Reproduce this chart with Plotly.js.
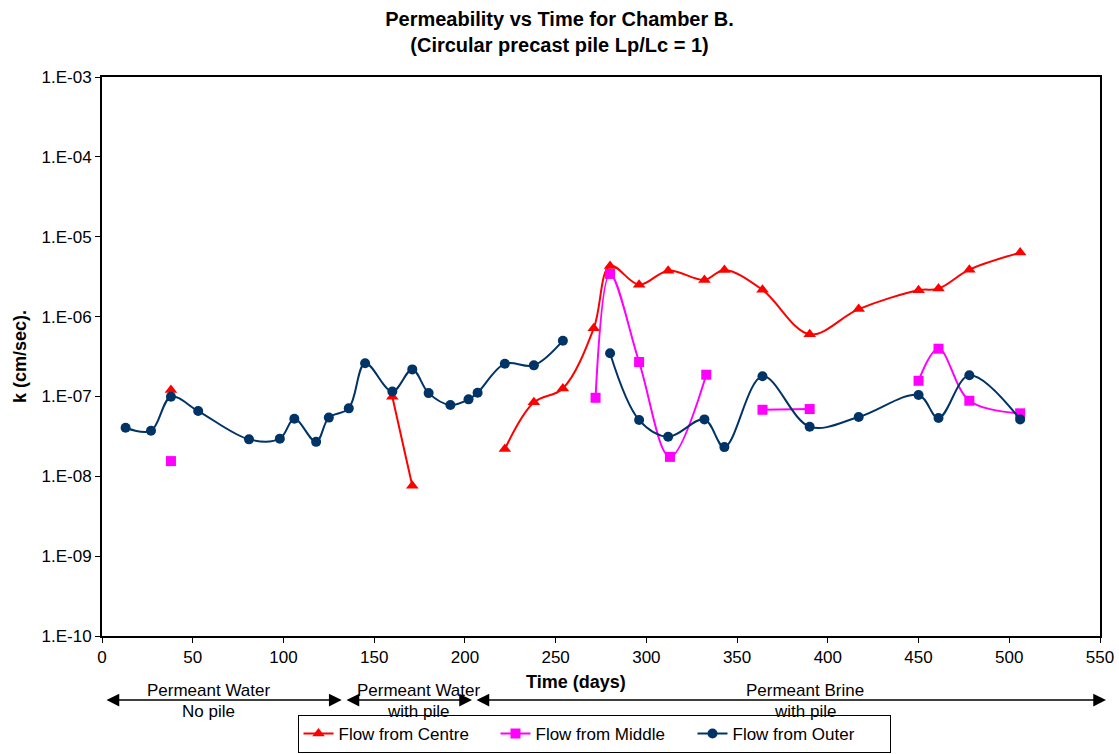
<!DOCTYPE html>
<html>
<head>
<meta charset="utf-8">
<script src="https://cdn.plot.ly/plotly-3.0.1.min.js"></script>
<style>
  html, body { margin: 0; padding: 0; background: #fff; }
  #chart { width: 1119px; height: 754px; }
</style>
</head>
<body>
<div id="chart"></div>
<script>
// Permeability readings (cm/sec) against elapsed time (days); null breaks a line.
const centreDays = [38, null, 160, 171, null, 222, 238, 254, 271, 280, 296, 312, 332, 343, 364, 390, 417, 450, 461, 478, 506];
const centreK = [1.20e-7, null, 9.9e-8, 7.6e-9, null, 2.19e-8, 8.43e-8, 1.26e-7, 7.13e-7, 4.31e-6, 2.51e-6, 3.76e-6, 2.88e-6, 3.84e-6, 2.16e-6, 6.0e-7, 1.24e-6, 2.14e-6, 2.24e-6, 3.87e-6, 6.33e-6];

const middleDays = [38, null, 272, 280, 296, 313, 333, null, 364, 390, null, 450, 461, 478, 506];
const middleK = [1.55e-8, null, 9.62e-8, 3.42e-6, 2.70e-7, 1.75e-8, 1.87e-7, null, 6.81e-8, 6.95e-8, null, 1.57e-7, 3.96e-7, 8.83e-8, 6.14e-8];

const outerDays = [13, 27, 38, 53, 81, 98, 106, 118, 125, 136, 145, 160, 171, 180, 192, 202, 207, 222, 238, 254, null, 280, 296, 312, 332, 343, 364, 390, 417, 450, 461, 478, 506];
const outerK = [4.05e-8, 3.71e-8, 9.9e-8, 6.56e-8, 2.90e-8, 2.96e-8, 5.25e-8, 2.70e-8, 5.43e-8, 7.09e-8, 2.60e-7, 1.15e-7, 2.18e-7, 1.10e-7, 7.80e-8, 9.19e-8, 1.11e-7, 2.57e-7, 2.45e-7, 4.99e-7, null, 3.47e-7, 5.06e-8, 3.13e-8, 5.16e-8, 2.32e-8, 1.79e-7, 4.17e-8, 5.52e-8, 1.04e-7, 5.36e-8, 1.84e-7, 5.16e-8];

const seriesNames = ['Flow from Centre', 'Flow from Middle', 'Flow from Outer'];
const yTickVals = [1e-10, 1e-9, 1e-8, 1e-7, 1e-6, 1e-5, 1e-4, 1e-3];
const yTickText = ['1.E-10', '1.E-09', '1.E-08', '1.E-07', '1.E-06', '1.E-05', '1.E-04', '1.E-03'];

// Stage bands shown under the time axis
const stageTop = ['Permeant Water', 'Permeant Water', 'Permeant Brine'];
const stageBottom = ['No pile', 'with pile', 'with pile'];

const FONT = 'Liberation Sans, Arial, sans-serif';
const M = { l: 102, r: 19, t: 77, b: 118, autoexpand: false };
const W = 1119 - M.l - M.r;
const H = 754 - M.t - M.b;
// pixel position on the page -> paper fraction
const px = x => (x - M.l) / W;
const py = y => (754 - M.b - y) / H;

const base = { type: 'scatter', mode: 'lines+markers', connectgaps: false,
               line: { shape: 'spline', smoothing: 1, width: 2 } };

const traces = [
  Object.assign({}, base, { x: centreDays, y: centreK, name: seriesNames[0],
    line: Object.assign({}, base.line, { color: '#ff0000' }),
    marker: { symbol: 'triangle-up', size: 11, color: '#ff0000' } }),
  Object.assign({}, base, { x: middleDays, y: middleK, name: seriesNames[1],
    line: Object.assign({}, base.line, { color: '#ff00ff' }),
    marker: { symbol: 'square', size: 10, color: '#ff00ff' } }),
  Object.assign({}, base, { x: outerDays, y: outerK, name: seriesNames[2],
    line: Object.assign({}, base.line, { color: '#003366' }),
    marker: { symbol: 'circle', size: 10, color: '#003366' } })
];

const arrowY = py(700);
const arrows = [[105, 341.7], [345, 472], [475, 1106]].map(([a, b]) => ({
  xref: 'paper', yref: 'paper', x: px(b), y: arrowY,
  axref: 'pixel', ayref: 'pixel', ax: -(b - a), ay: 0,
  text: '', showarrow: true, arrowside: 'end+start', arrowhead: 2,
  arrowsize: 1.7, arrowwidth: 1.5, arrowcolor: '#000', standoff: 0, startstandoff: 0
}));

const label = (x, y, text, size, bold) => ({
  xref: 'paper', yref: 'paper', x: px(x), y: py(y), xanchor: 'center', yanchor: 'middle',
  text: bold ? '<b>' + text + '</b>' : text, showarrow: false,
  font: { family: FONT, size: size, color: '#000' }
});

const stageX = [208, 418, 805];
const stageLabels = [];
stageX.forEach((x, i) => {
  stageLabels.push(label(x, 690, stageTop[i], 17, false));
  stageLabels.push(label(x, 711, stageBottom[i], 17, false));
});

const xTitle = label(576, 682, 'Time (days)', 18, true);

const layout = {
  width: 1119, height: 754,
  margin: M,
  paper_bgcolor: '#fff', plot_bgcolor: '#fff',
  font: { family: FONT, size: 17, color: '#000' },
  title: { text: '<b>Permeability vs Time for Chamber B.</b><br><b>(Circular precast pile Lp/Lc = 1)</b>',
           x: 0.5, xref: 'container', y: 0.966, yanchor: 'top',
           font: { family: FONT, size: 20, color: '#000' } },
  xaxis: { range: [0, 550], dtick: 50, tick0: 0, showgrid: false, zeroline: false,
           showline: true, linecolor: '#000', linewidth: 2, mirror: true,
           ticks: 'outside', ticklen: 5, tickcolor: '#000', tickwidth: 1,
           tickfont: { family: FONT, size: 17 } },
  yaxis: { type: 'log', range: [-10, -3], tickvals: yTickVals, ticktext: yTickText,
           showgrid: false, zeroline: false, showline: true, linecolor: '#000', linewidth: 2, mirror: true,
           ticks: 'outside', ticklen: 5, tickcolor: '#000', tickwidth: 1,
           tickfont: { family: FONT, size: 17 },
           title: { text: '<b>k (cm/sec).</b>', font: { family: FONT, size: 18 }, standoff: 10 } },
  showlegend: true,
  legend: { orientation: 'h', x: px(594), xanchor: 'center', y: py(753), yanchor: 'bottom',
            bordercolor: '#000', borderwidth: 1, bgcolor: '#fff', tracegroupgap: 0,
            entrywidth: 152, entrywidthmode: 'pixels',
            font: { family: FONT, size: 17 } },
  annotations: arrows.concat(stageLabels, [xTitle])
};

Plotly.newPlot('chart', traces, layout, { displayModeBar: false, staticPlot: true });
</script>
</body>
</html>
